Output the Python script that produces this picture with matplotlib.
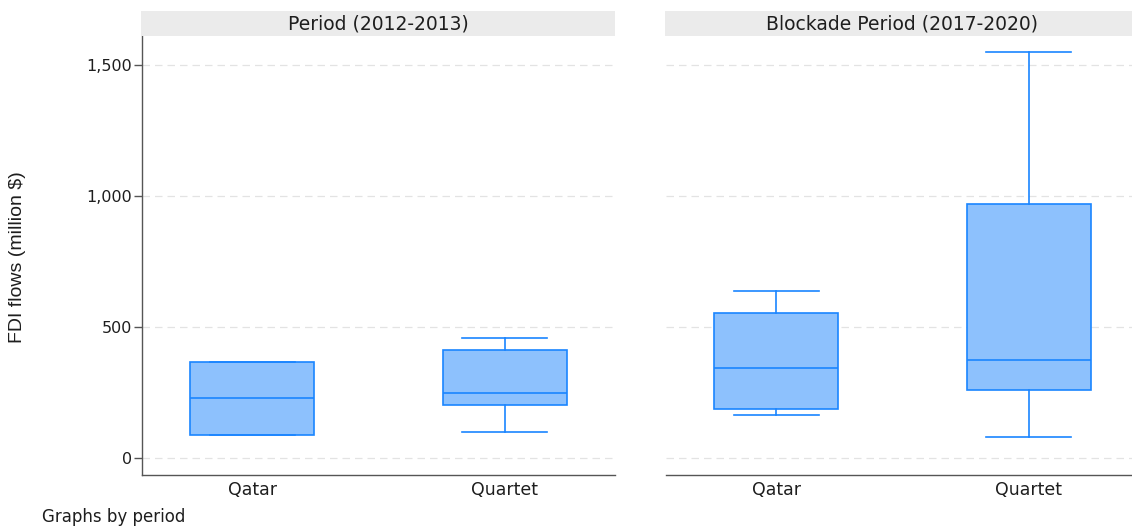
import matplotlib
matplotlib.use("Agg")
import matplotlib.pyplot as plt

plt.rcParams['font.family'] = ['DejaVu Sans']

# Box-plot summaries of FDI flows (million $) by group and period
periods = ["Period (2012-2013)", "Blockade Period (2017-2020)"]
groups = ["Qatar", "Quartet"]

whisker_low = [[88, 99], [164, 79]]
q1 = [[88, 202], [187, 260]]
median = [[229, 248], [344, 374]]
q3 = [[366, 411], [553, 970]]
whisker_high = [[366, 458], [637, 1550]]

yticks = [0, 500, 1000, 1500]
ytick_labels = ["0", "500", "1,000", "1,500"]

W, H = 1132, 526
fig = plt.figure(figsize=(W / 100, H / 100), dpi=100)
fig.patch.set_facecolor("white")

edge = "#1A85FF"
fill = "#8DC1FD"
grid_c = "#E3E3E3"
text_c = "#1E1E1E"

panel_left = [142, 666]
panel_w = 473
ax_top, ax_bot = 36, 475
strip_top = 11

for p, title in enumerate(periods):
    x0 = panel_left[p]
    ax = fig.add_axes([x0 / W, (H - ax_bot) / H, panel_w / W, (ax_bot - ax_top) / H])
    stats = []
    for g, name in enumerate(groups):
        stats.append(dict(med=median[p][g], q1=q1[p][g], q3=q3[p][g],
                          whislo=whisker_low[p][g], whishi=whisker_high[p][g],
                          fliers=[], label=name))
    ax.bxp(stats, positions=[1, 2], widths=0.49, patch_artist=True,
           showfliers=False,
           boxprops=dict(facecolor=fill, edgecolor=edge, linewidth=1.2),
           medianprops=dict(color=edge, linewidth=1.2),
           whiskerprops=dict(color=edge, linewidth=1.2),
           capprops=dict(color=edge, linewidth=1.2),
           capwidths=0.336, zorder=3)
    ax.set_xlim(0.564, 2.436)
    ax.set_ylim(-65, 1611)
    ax.set_yticks(yticks)
    ax.yaxis.grid(True, color=grid_c, linestyle=(0, (6, 4)), linewidth=0.9, zorder=0)
    ax.set_axisbelow(True)
    for s in ["top", "right"]:
        ax.spines[s].set_visible(False)
    ax.spines["bottom"].set_color("#555555")
    ax.spines["bottom"].set_linewidth(1.0)
    ax.tick_params(axis="x", length=0, pad=4, labelsize=12.5, colors=text_c)
    if p == 0:
        ax.spines["left"].set_color("#555555")
        ax.spines["left"].set_linewidth(1.0)
        ax.set_yticklabels(ytick_labels)
        ax.tick_params(axis="y", length=6, width=1.0, color="#555555", pad=1,
                       labelsize=11.5, labelcolor=text_c)
    else:
        ax.spines["left"].set_visible(False)
        ax.tick_params(axis="y", length=0, labelleft=False)

    # panel header strip
    sax = fig.add_axes([(x0 - 1) / W, (H - ax_top) / H, (panel_w + 1) / W,
                        (ax_top - strip_top) / H])
    sax.set_facecolor("#EBEBEB")
    sax.set_xticks([])
    sax.set_yticks([])
    for s in sax.spines.values():
        s.set_visible(False)
    sax.text(0.5, 0.5, title, ha="center", va="center", fontsize=13.5,
             color=text_c, transform=sax.transAxes)

fig.text(18 / W, 1 - 257 / H, "FDI flows (million $)", rotation=90,
         ha="center", va="center", fontsize=14, color=text_c,
         family=["Liberation Sans", "DejaVu Sans"])
fig.text(42 / W, 1 - 517 / H, "Graphs by period", ha="left", va="center",
         fontsize=12, color=text_c)

fig.savefig("out.png", dpi=100)
